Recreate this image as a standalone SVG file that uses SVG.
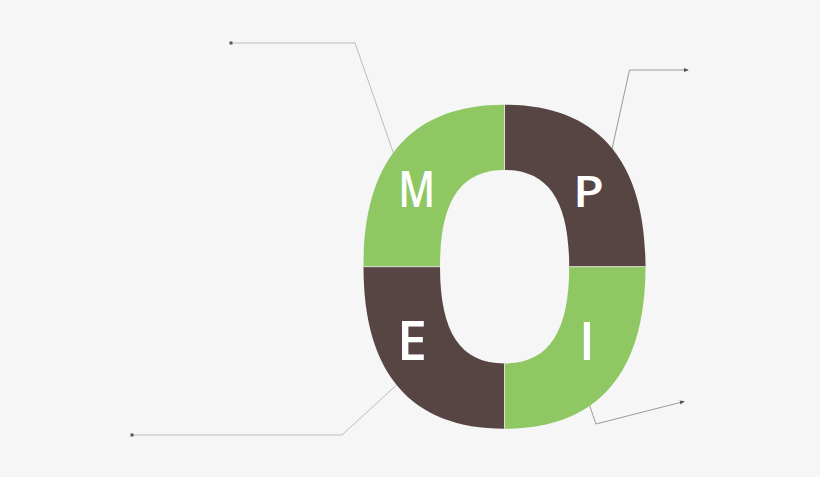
<svg xmlns="http://www.w3.org/2000/svg" width="820" height="477" viewBox="0 0 820 477">
<defs>
<style>
.bg{fill:#f6f6f6}
.green{fill:#8fc862}
.brown{fill:#574543}
.seam{stroke:#e4e8e0;stroke-width:0.9;fill:none}
.conn{fill:none;stroke:#bdbdbd;stroke-width:1}
.conn2{fill:none;stroke:#9a9a9a;stroke-width:1}
.lbl{font-family:"Open Sans","DejaVu Sans",sans-serif;font-weight:600;fill:#ffffff;text-anchor:middle}
</style>
<marker id="dot" viewBox="0 0 4 4" refX="2" refY="2" markerWidth="4" markerHeight="4" markerUnits="userSpaceOnUse">
<rect x="0.5" y="0.5" width="3" height="3" fill="#555"/>
</marker>
<marker id="arr" viewBox="0 0 6 6" refX="5" refY="3" markerWidth="5" markerHeight="5" markerUnits="userSpaceOnUse" orient="auto">
<path d="M0,0.5 L6,3 L0,5.5 Z" fill="#555"/>
</marker>
</defs>
<rect class="bg" x="0" y="0" width="820" height="477"/>
<g id="connectors">
<polyline class="conn" points="398,166 355,43 231,43" marker-end="url(#dot)"/>
<polyline class="conn2" points="610,158 629.5,70 688,70" marker-end="url(#arr)"/>
<polyline class="conn" points="402,380 342,435 132,435" marker-end="url(#dot)"/>
<polyline class="conn2" points="586,395 596,424 684,401.5" marker-end="url(#arr)"/>
</g>
<g id="node-M">
<path class="green" d="M363.5,266.7 C363.5,159.8 411.4,104.7 504.5,104.7 L504.5,170 C460.5,170 440,200.9 440,266.7 Z"/>
<text class="lbl" x="416.7" y="207" font-size="50" textLength="37" lengthAdjust="spacingAndGlyphs">M</text>
</g>
<g id="node-P">
<path class="brown" d="M504.5,104.7 C597.6,104.7 645.5,159.8 645.5,266.7 L569.2,266.7 C569.2,200.9 548.5,170 504.5,170 Z"/>
<text class="lbl" x="588.5" y="207" font-size="43" textLength="31" lengthAdjust="spacingAndGlyphs">P</text>
</g>
<g id="node-I">
<path class="green" d="M645.5,266.7 C645.5,373.6 597.6,428.7 504.5,428.7 L504.5,363.4 C548.5,363.4 569.2,332.5 569.2,266.7 Z"/>
<text class="lbl" x="587" y="359.5" font-size="52">I</text>
</g>
<g id="node-E">
<path class="brown" d="M504.5,428.7 C411.4,428.7 363.5,373.6 363.5,266.7 L440,266.7 C440,332.5 460.5,363.4 504.5,363.4 Z"/>
<text class="lbl" x="412" y="360" font-size="54" textLength="30" lengthAdjust="spacingAndGlyphs">E</text>
</g>
<g id="seams">
<line class="seam" x1="363.5" y1="266.7" x2="440" y2="266.7"/>
<line class="seam" x1="569.2" y1="266.7" x2="645.5" y2="266.7"/>
<line class="seam" x1="504.5" y1="104.7" x2="504.5" y2="170"/>
<line class="seam" x1="504.5" y1="363.4" x2="504.5" y2="428.7"/>
</g>
</svg>
